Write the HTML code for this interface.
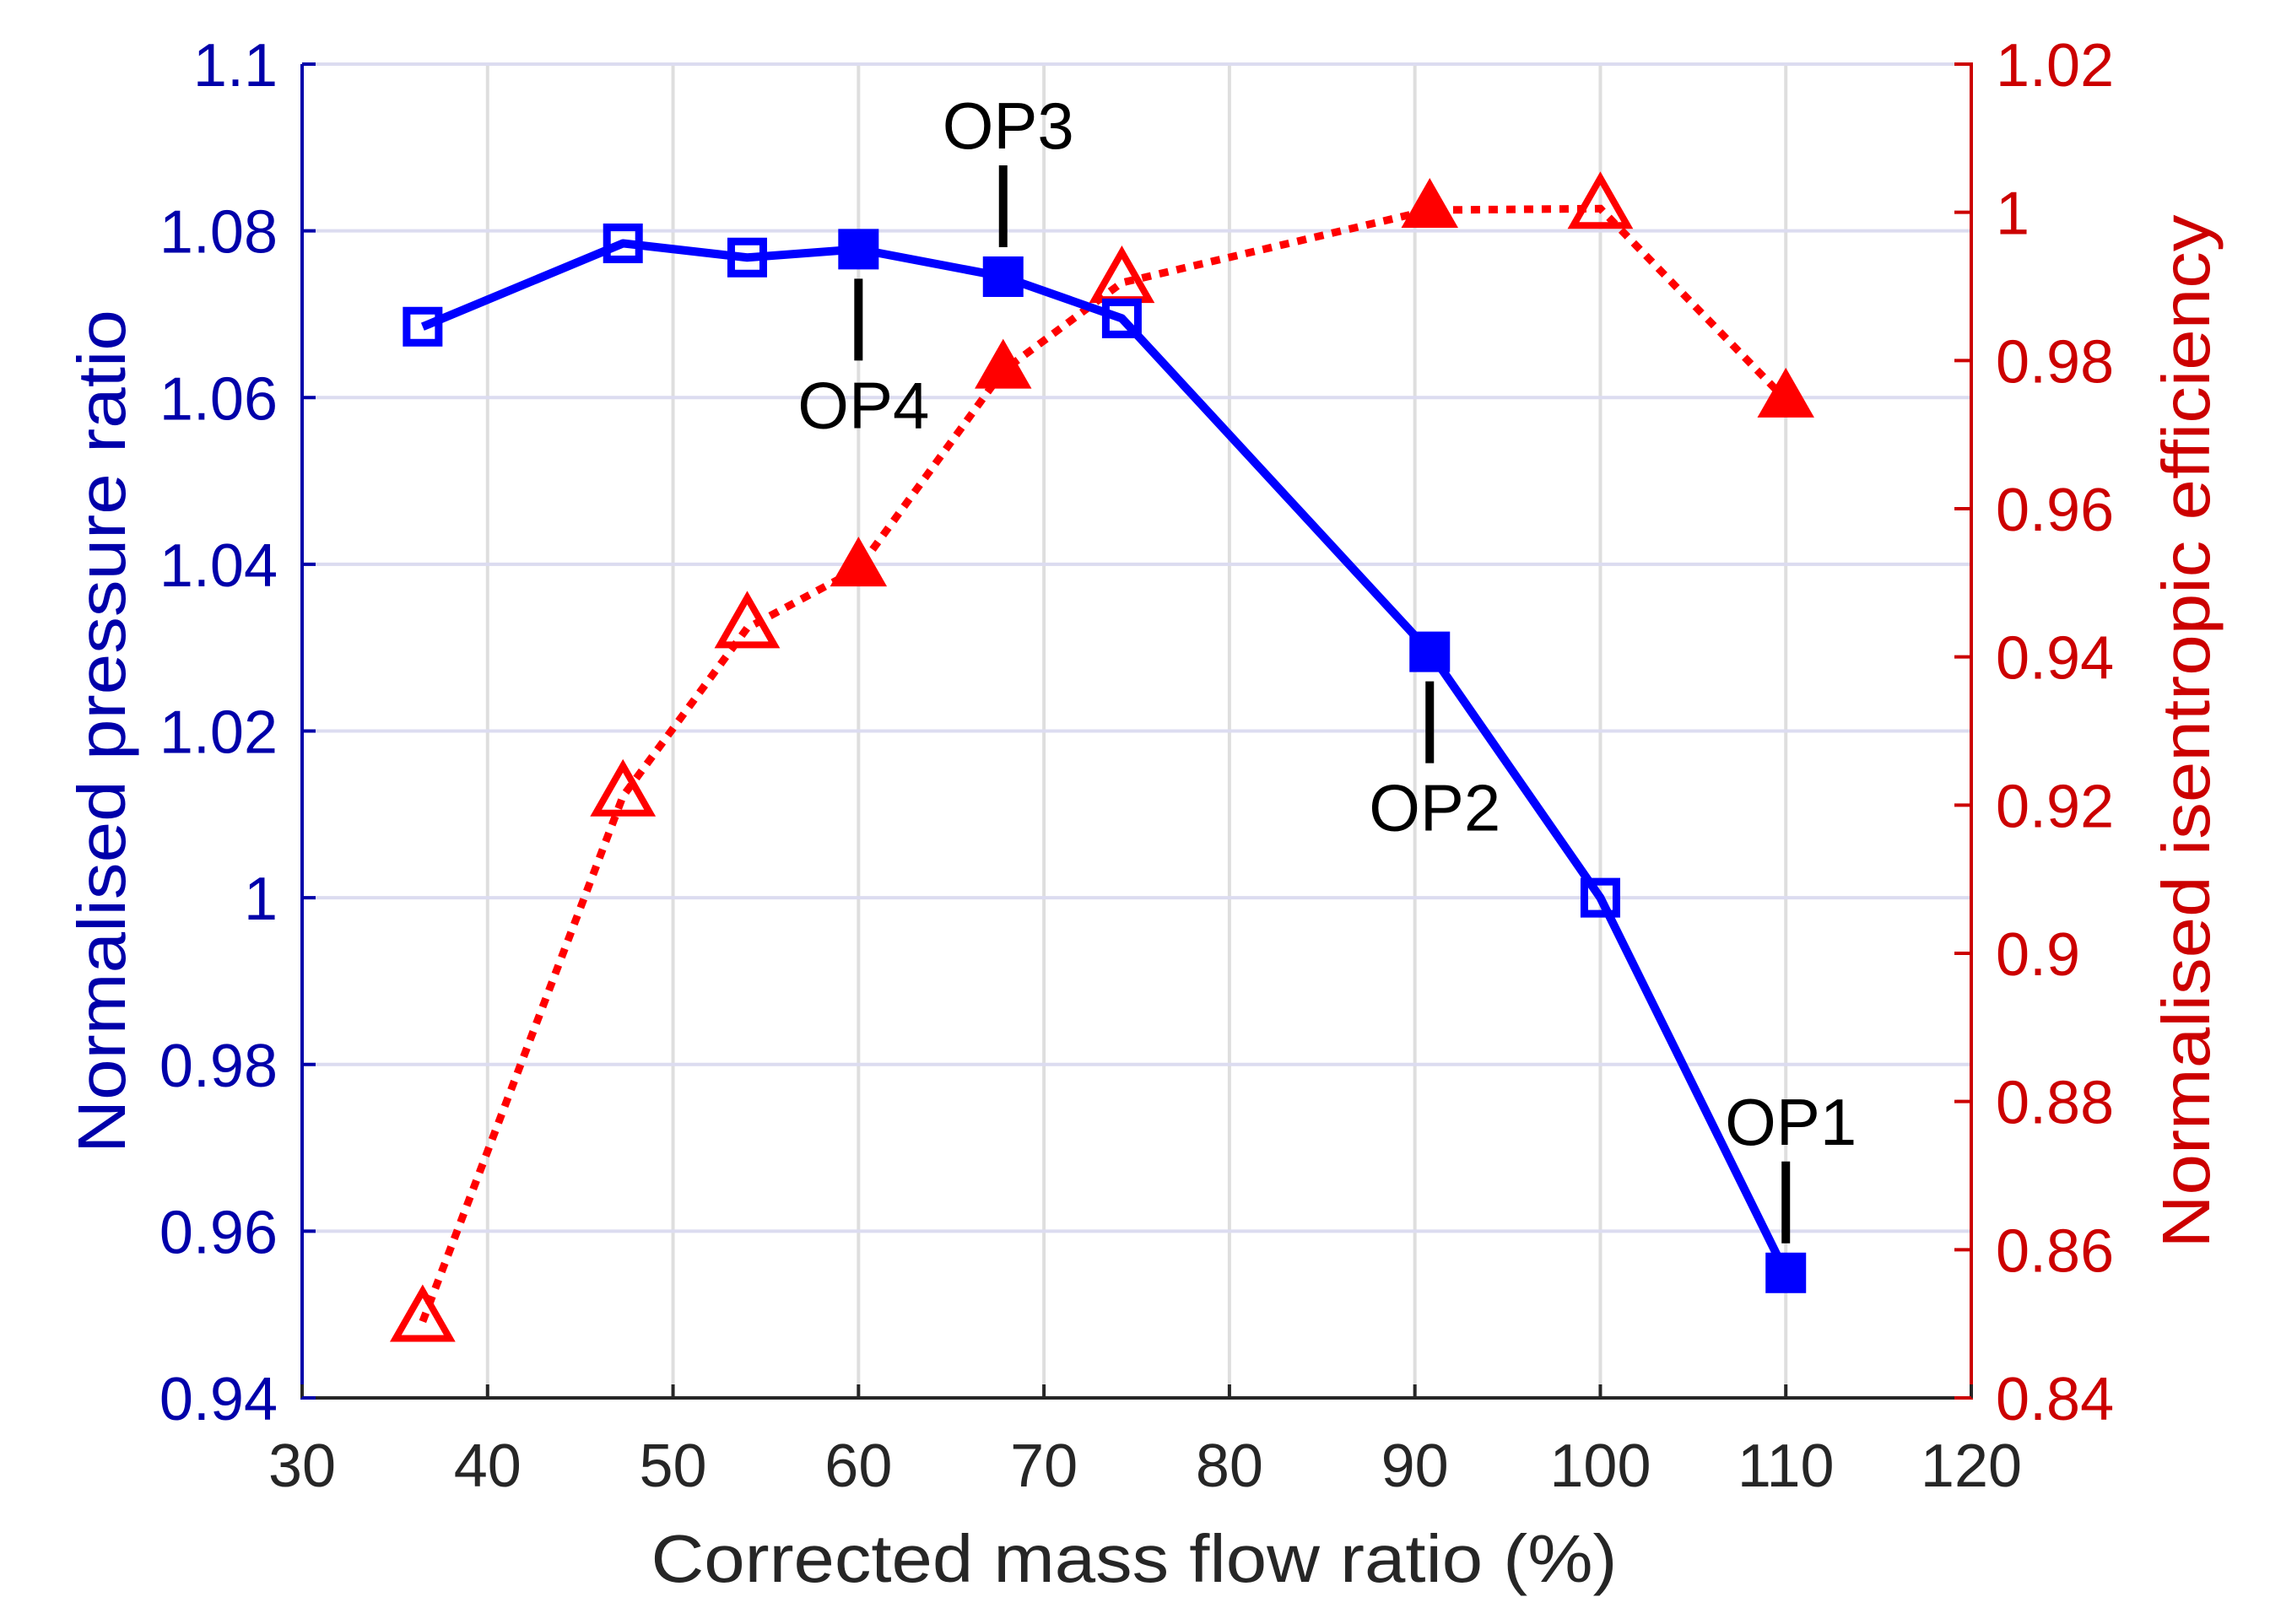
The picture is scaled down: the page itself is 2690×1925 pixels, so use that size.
<!DOCTYPE html>
<html><head><meta charset="utf-8"><style>
html,body{margin:0;padding:0;background:#fff}
svg{display:block;font-family:"Liberation Sans",sans-serif}
</style></head><body>
<svg id="chart" width="2690" height="1925" viewBox="0 0 2690 1925" xmlns="http://www.w3.org/2000/svg">
<g id="grid"></g>
<g id="axes"></g>
<g id="series"></g>
<g id="annot"></g>
</svg>
<script>
const massFlow = [36.5, 47.3, 54, 60, 67.8, 74.2, 90.8, 100, 110];
const pressureRatio = [1.0685, 1.0785, 1.0768, 1.0778, 1.0745, 1.0695, 1.0295, 1.0, 0.955];
const efficiency = [0.8503, 0.9212, 0.9439, 0.9519, 0.9786, 0.9905, 1.0003, 1.0005, 0.9747];
const filled = [false, false, false, true, true, false, true, false, true];
const xTicks = [30,40,50,60,70,80,90,100,110,120];
const yLeftTicks = [0.94,0.96,0.98,1,1.02,1.04,1.06,1.08,1.1];
const yLeftLabels = ["0.94","0.96","0.98","1","1.02","1.04","1.06","1.08","1.1"];
const yRightTicks = [0.84,0.86,0.88,0.9,0.92,0.94,0.96,0.98,1,1.02];
const yRightLabels = ["0.84","0.86","0.88","0.9","0.92","0.94","0.96","0.98","1","1.02"];
const opLabels = ["OP1","OP2","OP3","OP4"];
const opIndex = [8, 6, 4, 3];
const opAbove = [true, false, true, false];

const X0=358, X1=2336, Y0=1657, Y1=76;
const sx = v => X0 + (v-30)/(120-30)*(X1-X0);
const syL = v => Y0 - (v-0.94)/(1.1-0.94)*(Y0-Y1);
const syR = v => Y0 - (v-0.84)/(1.02-0.84)*(Y0-Y1);
const NS="http://www.w3.org/2000/svg";
function mk(tag, attrs, parent){const e=document.createElementNS(NS,tag);for(const k in attrs)e.setAttribute(k,attrs[k]);parent.appendChild(e);return e;}
const grid=document.getElementById('grid'), axes=document.getElementById('axes'), series=document.getElementById('series'), annot=document.getElementById('annot');

xTicks.forEach(t=>{ if(t===30||t===120) return;
  const l=mk('line',{x1:sx(t),x2:sx(t),y1:Y1,y2:Y0,stroke:'#dedede','stroke-width':4},grid);
  
  
});
yLeftTicks.forEach(t=>{ if(t===0.94) return;
  const l=mk('line',{x1:X0,x2:X1,y1:syL(t),y2:syL(t),stroke:'#dcdcf0','stroke-width':4},grid);
  
  
});

let a=mk('line',{x1:X0,x2:X1,y1:Y0,y2:Y0,stroke:'#262626','stroke-width':4},axes);


a=mk('line',{x1:X0,x2:X0,y1:Y0+2,y2:Y1,stroke:'#0000aa','stroke-width':4},axes);


a=mk('line',{x1:X1,x2:X1,y1:Y0+2,y2:Y1-2,stroke:'#cc0000','stroke-width':4},axes);



xTicks.forEach(t=>{
  const tk=mk('line',{x1:sx(t),x2:sx(t),y1:Y0,y2:Y0-16,stroke:'#262626','stroke-width':4},axes);
  
  
  const tx=mk('text',{x:sx(t),y:1762,'font-size':72,fill:'#262626','text-anchor':'middle'},axes);
  tx.textContent=t;
  
  
});
yLeftTicks.forEach((t,i)=>{
  const tk=mk('line',{x1:X0,x2:X0+16,y1:syL(t),y2:syL(t),stroke:'#0000aa','stroke-width':4},axes);
  
  
  const tx=mk('text',{x:329,y:syL(t)+26,'font-size':72,fill:'#0000aa','text-anchor':'end'},axes);
  tx.textContent=yLeftLabels[i];
  
  
});
yRightTicks.forEach((t,i)=>{
  const tk=mk('line',{x1:X1,x2:X1-20,y1:syR(t),y2:syR(t),stroke:'#cc0000','stroke-width':4},axes);
  
  
  const tx=mk('text',{x:2365,y:syR(t)+26,'font-size':72,fill:'#cc0000','text-anchor':'start'},axes);
  tx.textContent=yRightLabels[i];
  
  
});
let tt=mk('text',{x:1344,y:1875,'font-size':80,fill:'#262626','text-anchor':'middle',textLength:1145,lengthAdjust:'spacingAndGlyphs'},axes);
tt.textContent='Corrected mass flow ratio (%)';


tt=mk('text',{x:0,y:0,'font-size':80,fill:'#0000aa','text-anchor':'middle',textLength:1000,lengthAdjust:'spacingAndGlyphs',transform:'translate(148,867) rotate(-90)'},axes);
tt.textContent='Normalised pressure ratio';


tt=mk('text',{x:0,y:0,'font-size':80,fill:'#cc0000','text-anchor':'middle',textLength:1225,lengthAdjust:'spacingAndGlyphs',transform:'translate(2618,867) rotate(-90)'},axes);
tt.textContent='Normalised isentropic efficiency';



let pts=massFlow.map((m,i)=>sx(m)+','+syR(efficiency[i])).join(' ');
let pl=mk('polyline',{points:pts,fill:'none',stroke:'#ff0000','stroke-width':9,'stroke-dasharray':'11 10'},series);


pts=massFlow.map((m,i)=>sx(m)+','+syL(pressureRatio[i])).join(' ');
pl=mk('polyline',{points:pts,fill:'none',stroke:'#0000ff','stroke-width':10,'stroke-linejoin':'round'},series);



massFlow.forEach((m,i)=>{
  const cx=sx(m), cy=syR(efficiency[i]);
  const f=filled[i];
  const tr=mk('polygon',{points:`${cx},${cy-36} ${cx+32},${cy+20} ${cx-32},${cy+20}`,fill:f?'#ff0000':'none',stroke:'#ff0000','stroke-width':f?2:8,'stroke-linejoin':'miter'},series);
  
  
});
massFlow.forEach((m,i)=>{
  const cx=sx(m), cy=syL(pressureRatio[i]);
  const f=filled[i];
  const s=f?48:38;
  const r=mk('rect',{x:cx-s/2,y:cy-s/2,width:s,height:s,fill:f?'#0000ff':'none',stroke:'#0000ff','stroke-width':f?0:9},series);
  
  
});

opLabels.forEach((lab,k)=>{
  const i=opIndex[k]; const cx=sx(massFlow[i]), cy=syL(pressureRatio[i]);
  let ly1,ly2,ty;
  if(opAbove[k]){ ly2=cy-35; ly1=ly2-97; ty=ly1-20; }
  else { ly1=cy+35; ly2=ly1+97; ty=ly2+80; }
  const l=mk('line',{x1:cx,x2:cx,y1:ly1,y2:ly2,stroke:'#000','stroke-width':10},annot);
  
  
  const t=mk('text',{x:cx+6,y:ty,'font-size':78,fill:'#000','text-anchor':'middle'},annot);
  t.textContent=lab;
  
  
});
</script>
</body></html>
